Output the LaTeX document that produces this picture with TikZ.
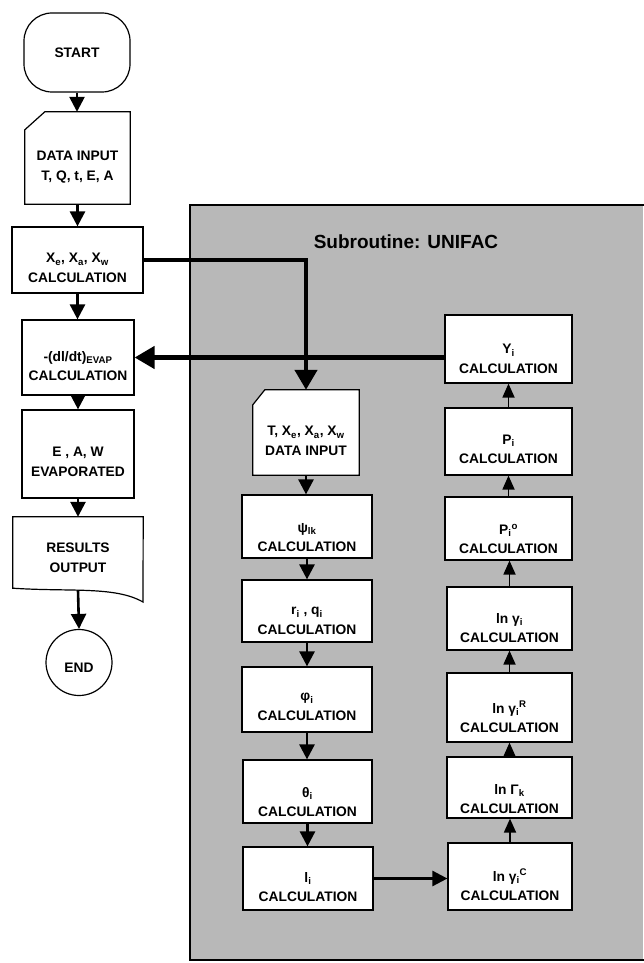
\documentclass[tikz,border=0pt]{standalone}
\usepackage{fontspec}
\setmainfont{Liberation Sans}
\usetikzlibrary{arrows.meta}
\begin{document}
\begin{tikzpicture}[x=1pt,y=-1pt,
  box/.style={draw, line width=1.2pt, fill=white, inner sep=0pt},
  shp/.style={line width=1.2pt, fill=white},
  txt/.style={font=\bfseries\fontsize{13.8}{19.5}\selectfont, align=center, inner sep=0pt},
  flow/.style={line width=2.6pt, -{Triangle[width=15pt,length=15pt]}},
  big/.style={line width=4.5pt, -{Triangle[width=22pt,length=20pt]}},
  up/.style={line width=1.8pt, -{Triangle[width=12pt,length=14pt]}}]
\useasboundingbox (0,0) rectangle (643,963);
\fill[white] (0,0) rectangle (643,963);
% subroutine area
\fill[black!28] (190,205) rectangle (643,960);
\draw[line width=2.5pt] (645,205) -- (190,205) -- (190,960) -- (645,960);
\node[font=\bfseries\fontsize{19}{22}\selectfont] (title) at (406,242) {Subroutine: UNIFAC};

% ---------- left column ----------
\node[box, rounded corners=28pt, minimum width=106pt, minimum height=79pt, txt] (start) at (77,52.5) {START};

\node[inner sep=0pt, minimum width=105pt, minimum height=92pt] (input) at (77.5,158) {};
\draw[shp] ([xshift=20pt]input.north west) -- (input.north east) -- (input.south east)
  -- (input.south west) -- ([yshift=-18pt]input.north west) -- cycle;
\node[txt] (inputT) at (77.5,167) {DATA INPUT\\T, Q, t, E, A};

\node[box, minimum width=131pt, minimum height=66pt] (xcalc) at (77.5,260) {};
\node[txt] (xcalcT) at (77.5,268) {X\textsubscript{e}, X\textsubscript{a}, X\textsubscript{w}\\CALCULATION};

\node[box, minimum width=112pt, minimum height=75pt] (evap) at (78,357.5) {};
\node[txt] (evapT) at (78,366) {-(dl/dt)\textsubscript{EVAP}\\CALCULATION};

\node[box, minimum width=112pt, minimum height=88pt] (evapd) at (78,454) {};
\node[txt] (evapdT) at (78,462) {E , A, W\\EVAPORATED};

\node[inner sep=0pt, minimum width=130pt, minimum height=71pt] (results) at (78,552.5) {};
\draw[shp] (results.south west) -- (results.north west) -- (results.north east)
  -- (143,602) .. controls (115,586) and (70,592) .. (results.south west) -- cycle;
\node[txt] (resultsT) at (78,557.5) {RESULTS\\OUTPUT};

\node[circle, draw, line width=1.2pt, fill=white, minimum size=66pt, inner sep=0pt] (finish) at (79,662.5) {};
\node[txt] (finishT) at (79,668) {END};

\draw[flow] (start.south) -- (start.south |- input.north);
\draw[flow] (input.south) -- (input.south |- xcalc.north);
\draw[flow] (xcalc.south) -- (xcalc.south |- evap.north);
\draw[flow] (evap.south) -- (evapd.north);
\draw[flow] (evapd.south) -- (results.north);
\draw[flow] ([yshift=-2pt]results.south) -- (finish.north);

% ---------- middle column ----------
\node[inner sep=0pt, minimum width=106pt, minimum height=85pt] (din) at (306,432.5) {};
\draw[shp] ([xshift=12pt]din.north west) -- (din.north east) -- (din.south east)
  -- (din.south west) -- ([yshift=-15pt]din.north west) -- cycle;
\node[txt] (dinT) at (306,441) {T, X\textsubscript{e}, X\textsubscript{a}, X\textsubscript{w}\\DATA INPUT};

\node[box, minimum width=130pt, minimum height=63pt] (psi) at (307,526.5) {};
\node[txt] (psiT) at (307,537.5) {ψ\textsubscript{lk}\\CALCULATION};

\node[box, minimum width=130pt, minimum height=62pt] (rq) at (307,611) {};
\node[txt] (rqT) at (307,621) {r\textsubscript{i} , q\textsubscript{i}\\CALCULATION};

\node[box, minimum width=130pt, minimum height=65pt] (phi) at (307,699.5) {};
\node[txt] (phiT) at (307,707) {φ\textsubscript{i}\\CALCULATION};

\node[box, minimum width=129pt, minimum height=63pt] (theta) at (307.5,791.5) {};
\node[txt] (thetaT) at (307.5,802) {θ\textsubscript{i}\\CALCULATION};

\node[box, minimum width=130pt, minimum height=63pt] (lbox) at (308,878.5) {};
\node[txt] (lboxT) at (308,887) {l\textsubscript{i}\\CALCULATION};

\draw[flow] (din.south) -- (din.south |- psi.north);
\draw[flow] (psi.south) -- (psi.south |- rq.north);
\draw[flow] (rq.south) -- (rq.south |- phi.north);
\draw[flow] (phi.south) -- (phi.south |- theta.north);
\draw[flow] (theta.south) -- (theta.south |- lbox.north);

% ---------- right column ----------
\node[box, minimum width=127pt, minimum height=68pt] (gam) at (508.5,349) {};
\node[txt] (gamT) at (508.5,359) {Y\textsubscript{i}\\CALCULATION};

\node[box, minimum width=127pt, minimum height=67pt] (pp) at (508.5,441.5) {};
\node[txt] (ppT) at (508.5,449.5) {P\textsubscript{i}\\CALCULATION};

\node[box, minimum width=127pt, minimum height=63pt] (p0) at (508.5,528.5) {};
\node[txt] (p0T) at (508.5,539) {P\textsubscript{i}\textsuperscript{o}\\CALCULATION};

\node[box, minimum width=125pt, minimum height=63pt] (lng) at (509.5,618.5) {};
\node[txt] (lngT) at (509.5,628) {ln γ\textsubscript{i}\\CALCULATION};

\node[box, minimum width=125pt, minimum height=69pt] (lngR) at (509.5,707.5) {};
\node[txt] (lngRT) at (509.5,717) {ln γ\textsubscript{i}\textsuperscript{R}\\CALCULATION};

\node[box, minimum width=125pt, minimum height=61pt] (lnG) at (509.5,787.5) {};
\node[txt] (lnGT) at (509.5,799) {ln Γ\textsubscript{k}\\CALCULATION};

\node[box, minimum width=124pt, minimum height=67pt] (lngC) at (510,876.5) {};
\node[txt] (lngCT) at (510,885) {ln γ\textsubscript{i}\textsuperscript{C}\\CALCULATION};

\draw[up] (lngC.north) -- (lngC.north |- lnG.south);
\draw[up] (lnG.north) -- (lnG.north |- lngR.south);
\draw[up] (lngR.north) -- (lngR.north |- lng.south);
\draw[up] (lng.north) -- (lng.north |- p0.south);
\draw[up] (p0.north) -- (p0.north |- pp.south);
\draw[up] (pp.north) -- (pp.north |- gam.south);

\draw[flow] (lbox.east) -- (lbox.east -| lngC.west);

% ---------- thick connectors ----------
\draw[big] (xcalc.east) -- (din.north |- xcalc.east) -- (din.north);
\draw[big] (gam.west |- evap.east) -- (evap.east);
\end{tikzpicture}
\end{document}
